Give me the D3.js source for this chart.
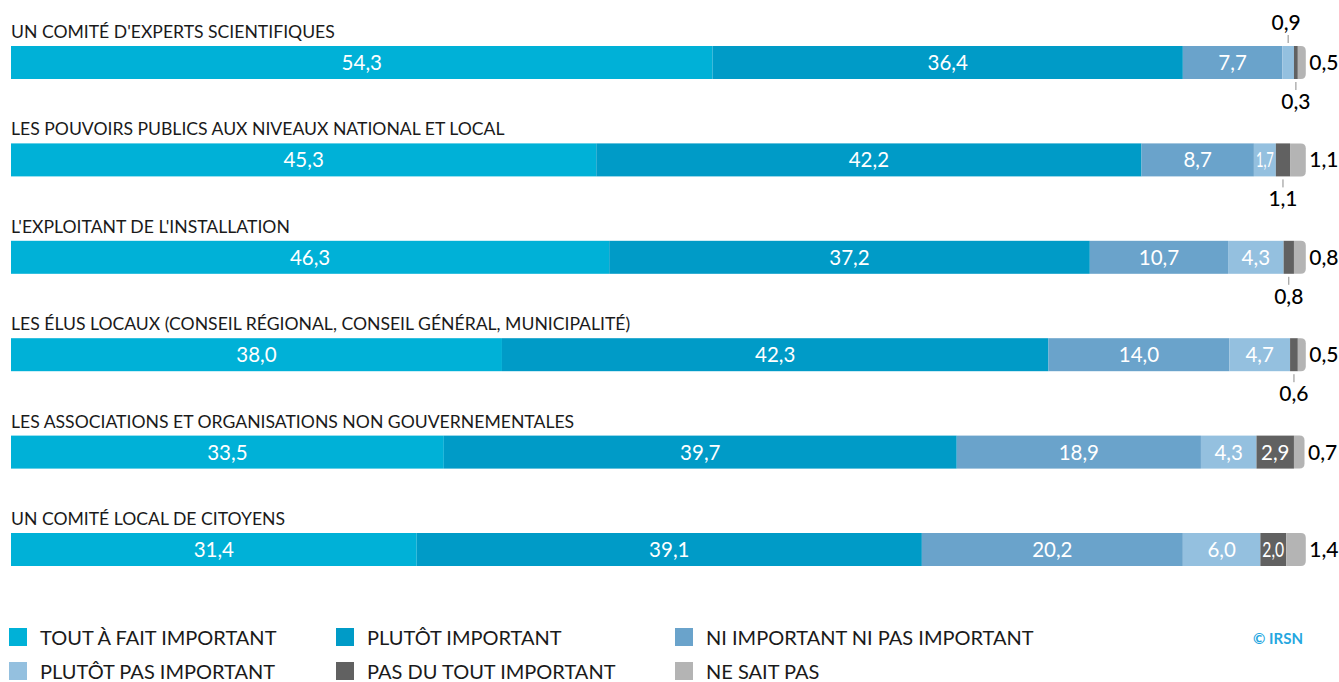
<!DOCTYPE html>
<html><head><meta charset="utf-8">
<script src="https://cdn.jsdelivr.net/npm/d3@7"></script>
<style>
html,body{margin:0;padding:0;background:#fff;}
svg text{font-family:Lato,"Open Sans",sans-serif;}
</style></head>
<body>
<svg id="chart" width="1339" height="682"></svg>
<script>
const categories = [
  "UN COMITÉ D'EXPERTS SCIENTIFIQUES",
  "LES POUVOIRS PUBLICS AUX NIVEAUX NATIONAL ET LOCAL",
  "L'EXPLOITANT DE L'INSTALLATION",
  "LES ÉLUS LOCAUX (CONSEIL RÉGIONAL, CONSEIL GÉNÉRAL, MUNICIPALITÉ)",
  "LES ASSOCIATIONS ET ORGANISATIONS NON GOUVERNEMENTALES",
  "UN COMITÉ LOCAL DE CITOYENS"
];
const seriesNames = [
  "TOUT À FAIT IMPORTANT",
  "PLUTÔT IMPORTANT",
  "NI IMPORTANT NI PAS IMPORTANT",
  "PLUTÔT PAS IMPORTANT",
  "PAS DU TOUT IMPORTANT",
  "NE SAIT PAS"
];
const toutAFait   = [54.3, 45.3, 46.3, 38.0, 33.5, 31.4];
const plutot      = [36.4, 42.2, 37.2, 42.3, 39.7, 39.1];
const niNi        = [7.7, 8.7, 10.7, 14.0, 18.9, 20.2];
const plutotPas   = [0.9, 1.7, 4.3, 4.7, 4.3, 6.0];
const pasDuTout   = [0.3, 1.1, 0.8, 0.6, 2.9, 2.0];
const neSaitPas   = [0.5, 1.1, 0.8, 0.5, 0.7, 1.4];
const colors = ["#00b1d7", "#009bc7", "#6aa3cb", "#94c0df", "#616161", "#b4b4b4"];

const seriesValues = [toutAFait, plutot, niNi, plutotPas, pasDuTout, neSaitPas];
const rows = categories.map((c, i) => {
  const r = {cat: c};
  seriesNames.forEach((s, j) => r[s] = seriesValues[j][i]);
  return r;
});
const stacked = d3.stack().keys(seriesNames)(rows);

const svg = d3.select("#chart");
const x = d3.scaleLinear().domain([0, 100]).range([11, 1303]);
const y = d3.scaleBand().domain(categories).range([46, 46 + 97.4 * 6]).paddingInner(0).paddingOuter(0);
const bh = 33;
const fmt = v => d3.format(".1f")(v).replace(".", ",");

// category labels
svg.append("g").selectAll("text").data(categories).join("text")
  .attr("x", 11).attr("y", d => y(d) - 8)
  .attr("font-size", 17.6).attr("fill", "#1a1a1a")
  .text(d => d);

const g = svg.append("g");
stacked.forEach((layer, j) => {
  const last = j === seriesNames.length - 1;
  layer.forEach((d, i) => {
    const x0 = x(d[0]), x1 = x(d[1]);
    const top = y(categories[i]);
    const w = x1 - x0;
    if (last) {
      const r = Math.min(5, w);
      g.append("path")
        .attr("d", `M${x0},${top}H${x1 - r + 1.5}Q${x1 + 1.5},${top} ${x1 + 1.5},${top + r}V${top + bh - r}Q${x1 + 1.5},${top + bh} ${x1 - r + 1.5},${top + bh}H${x0}Z`)
        .attr("fill", colors[j]);
    } else {
      g.append("rect").attr("x", x0).attr("y", top).attr("width", w).attr("height", bh).attr("fill", colors[j]);
    }
    const v = seriesValues[j][i];
    const cx = (x0 + x1) / 2;
    if (last) {
      g.append("text").attr("x", x1 + 5).attr("y", top + bh / 2 + 7.5)
        .attr("font-size", 21).attr("font-weight", 500).attr("fill", "#000").text(fmt(v));
    } else if (w >= 20) {
      const t = g.append("text").attr("x", cx).attr("y", top + bh / 2 + 7.5)
        .attr("text-anchor", "middle").attr("font-size", 20.5).attr("fill", "#fff").text(fmt(v));
      if (w < 30) t.attr("textLength", w - 4).attr("lengthAdjust", "spacingAndGlyphs");
    } else if (j === 3) {
      g.append("line").attr("x1", cx).attr("x2", cx).attr("y1", top - 11).attr("y2", top - 3)
        .attr("stroke", "#8a8a8a").attr("stroke-width", 1);
      g.append("text").attr("x", cx - 2).attr("y", top - 16)
        .attr("text-anchor", "middle").attr("font-size", 21).attr("font-weight", 500).attr("fill", "#000").text(fmt(v));
    } else {
      g.append("line").attr("x1", cx).attr("x2", cx).attr("y1", top + bh + 3).attr("y2", top + bh + 11)
        .attr("stroke", "#8a8a8a").attr("stroke-width", 1);
      g.append("text").attr("x", cx).attr("y", top + bh + 30)
        .attr("text-anchor", "middle").attr("font-size", 21).attr("font-weight", 500).attr("fill", "#000").text(fmt(v));
    }
  });
});

// legend
const legX = [9, 336, 675];
const legY = [628, 662];
const lg = svg.append("g");
seriesNames.forEach((s, j) => {
  const col = j % 3, row = Math.floor(j / 3);
  lg.append("rect").attr("x", legX[col]).attr("y", legY[row]).attr("width", 18).attr("height", 18).attr("fill", colors[j]);
  lg.append("text").attr("x", legX[col] + 31).attr("y", legY[row] + 17)
    .attr("font-size", 20).attr("fill", "#1a1a1a").text(s);
});
svg.append("text").attr("x", 1303).attr("y", 644).attr("text-anchor", "end")
  .attr("font-size", 15).attr("font-weight", "bold").attr("fill", "#25a7df").text("© IRSN");
</script>
</body></html>
